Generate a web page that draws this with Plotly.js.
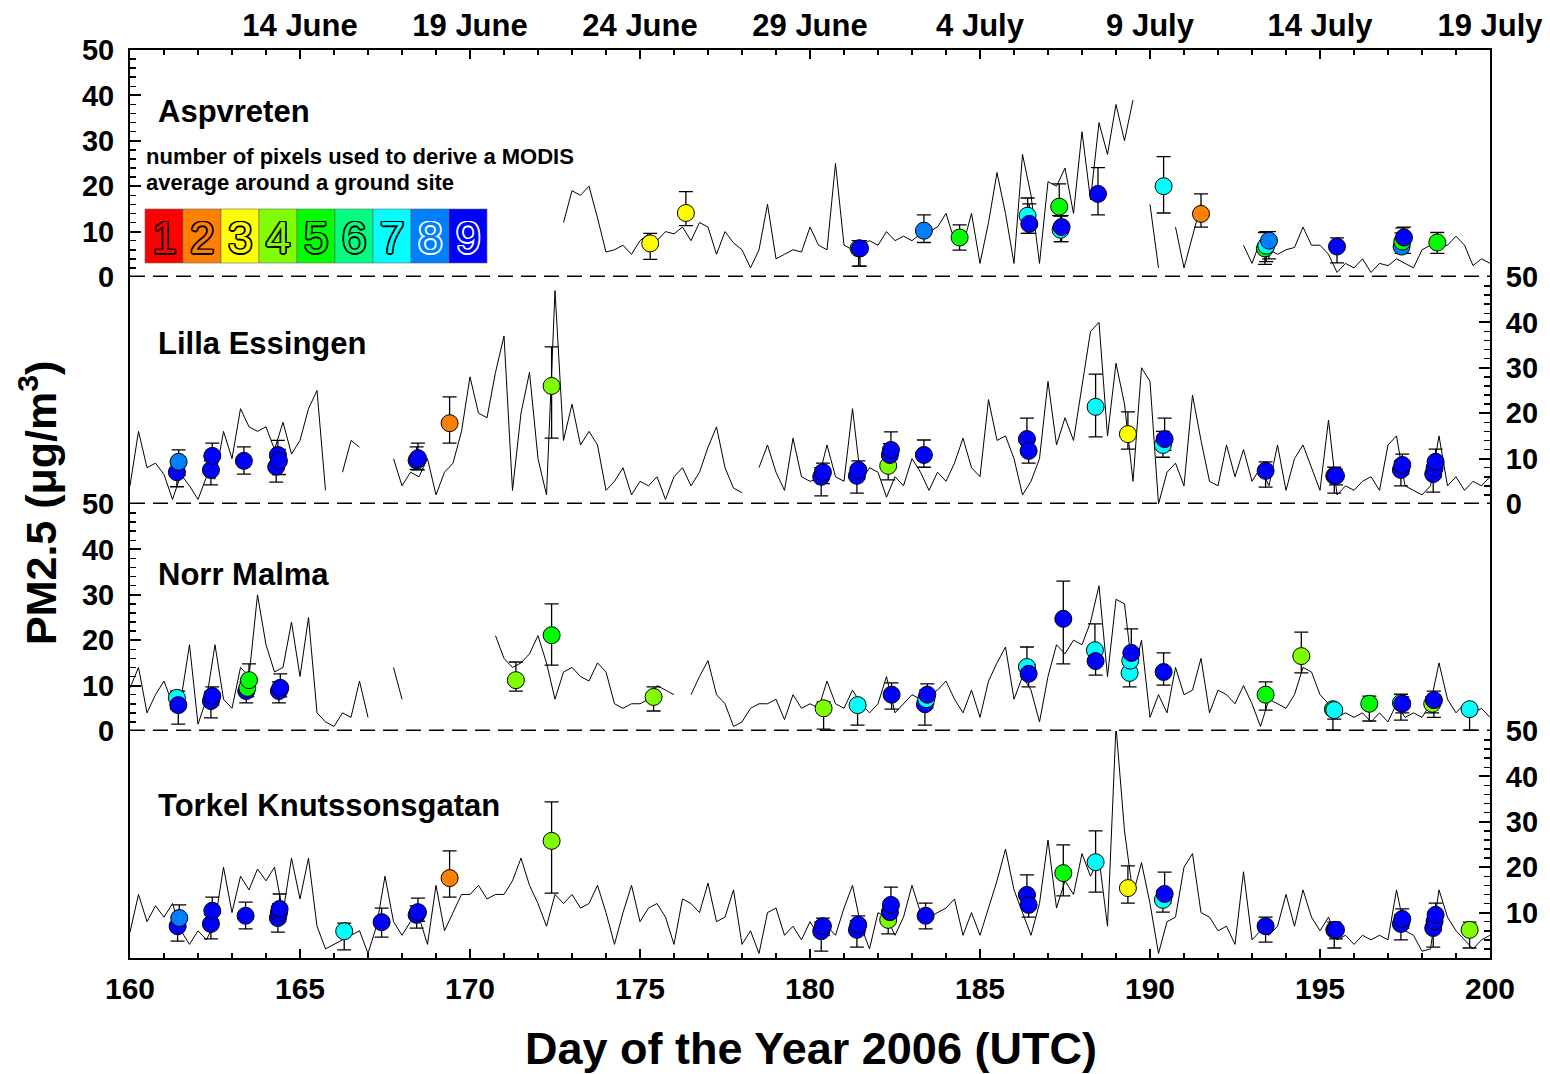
<!DOCTYPE html>
<html>
<head>
<meta charset="utf-8">
<script src="https://cdn.plot.ly/plotly-3.0.1.min.js"></script>
<style>html,body{margin:0;padding:0;background:#fff;}#chart{width:1550px;height:1074px;}</style>
</head>
<body>
<div id="chart"></div>
<script>
const n = null;
// hourly-like PM2.5 series sampled every 0.25 day from day 160.0 to 200.0
const dayStart = 160, dayStep = 0.25;

const aspvretenPM = [
 n,n,n,n,   n,n,n,n,   n,n,n,n,   n,n,n,n,   n,n,n,n,
 n,n,n,n,   n,n,n,n,   n,n,n,n,   n,n,n,n,   n,n,n,n,
 n,n,n,n,   n,n,n,n,   n,n,n,12,
 19,18,20,13,   5.5,6,7,5,   8,9.5,8,10,   9.5,11,8,12,   11,5,10,7.5,
 6,2,6,16,   4,5,6,5.5,   11,7,6,25,   7,6,7,8,   7,10,8,9,
 8,9.5,10,11,   14,8,7,14,   3,12,23,14,   3,27,18,3,   21,20,24,14,
 32,17,34,27,   38,30,39,n,   16,2,n,11,   2,9,16,n,   n,n,n,7,
 3,8,6,5,   6,6.5,11,7,   7,5,1,3,   2,4,1,3,   2.5,4,3,2,
 6,7,6.5,7,   9,7,2.5,4,
 3
];
const lillaPM = [
 4,16,8,9,   6.5,1,6.5,4,   1,6,5.5,16,   10,21,17,16,   17,12,18,11,
 14,21,25,3,   n,7,14,12.5,   n,n,n,10,   4,7,6,10,   2,7,9,16,
 28,20,19,29,   37,3,20,29,   10,2,47,14,
 22,13,16,13,   3,5,8,2,   5,4,6,1,   6,8,4,7,   12.5,17,8,3.5,
 2.5,n,8,13,   7,3,14.5,6,   5,5.5,13,6,   5,21,5,8,   7,1.5,6,4,
 10,7,3,7,   5,9,14.5,8,   6,23,14,15,   10,2,5,10,   27,13,19,14,
 26,38,40,15,   31,22,5,30,   27,0,7,9,   4,24,14,5,   4,13,6,12,
 5,8,4,13,   3,10,13,8,   3,18.5,2,4,   3,5,6,3,   13,15,4,3,
 2,4,15,4,   6,3,5,4,
 6
];
const norrMalmaPM = [
 9.5,14,4,8,   11,6,7,19,   1.5,7,19,7,   5,14,12,30,   19,13,14,24,
 12,25,4,2,   1,4,3,11,   3,n,n,14,   7,n,n,n,   n,n,n,n,
 n,n,n,21,   16,14,15,17,   21,15,7,13,
 14,12,11,15,   13,6,5,6,   6,7,10,9,   8,n,8,12,   15.5,8,6,1,
 2,5,6,6,   7,2.5,8,5,   6,5,11,6,   5,9,6,4,   6,12,4,6,
 8,7,8,9,   11,7,4,9,   3,11,15,18.5,   7,12,9,2,   12,19,17,20,
 19,24,32,12,   29,28,12,20,   3,8,4,14,   8,9,16,4,   9,8,6,10,
 6,1,7,6,   5,8,14,13,   8,6,3,4,   3,4,2,4,   2,6,3,4,
 3,6,15,7,   4,6,4,5,
 3
];
const torkelPM = [
 5.7,14,8,11.5,   9,12,6,3,   6,4,8,20,   10,18,15,19.6,   17,20,10,22,
 13,22,7,2,   3,4,5,6,   1,7,18,8,   5,8,9,3,   16,6,10,14,
 14,16,13,14,   14,17,22,16,   12,7,14,12,
 14,11,12,16,   10,3,10,16,   8,11,12,9,   3,13,12,10,   16.5,8,9,15,
 3,6,1,10,   11,5,7,4,   8,5,7,5,   11,16,7,2,   10,9,5,9,
 16,10,9,10,   11,13,5,10,   5,11,17,24,   15,10,5,12,   26,11,17,14,
 23,18,22,7,   51,28,14,21,   12,1,8,9,   20,23,10,9,   6,7,3,19,
 4,6,5,7,   14,7,15,9,   6,9,4,5,   3,5,4,5,   4,15,6,5,
 1.5,2,15,9,   6,4,2,4,
 5
];

// MODIS-derived points: day, PM2.5, error up, error down, number of pixels
const aspDays = [175.3,176.35,181.43,181.47,183.35,184.4,186.4,186.45,187.33,187.37,187.4,188.47,190.4,191.5,193.38,193.42,193.5,195.5,197.4,197.42,197.47,198.45];
const aspPM   = [7.4,14.1,6.3,6.3,10.2,8.7,13.5,11.7,15.5,10.4,11,18.3,20,13.9,6.3,6.9,8,6.7,6.7,7.8,8.7,7.6];
const aspUp   = [2.2,4.7,1.7,1.7,3.5,2.8,3.9,4.4,5,3,2.5,5.8,6.5,4.4,3.5,3.1,2,1.9,3,3,2.3,2.2];
const aspDown = [3.5,2.8,3.9,3.9,2.6,2.8,3.9,2.1,2,2.6,3.2,4.6,5.9,2.9,3.5,3.5,4,3.6,1.5,2.6,3.5,2.4];
const aspPix  = [3,3,6,9,8,5,7,9,5,7,9,9,7,2,5,7,8,9,8,5,9,5];

const lilDays = [161.38,161.43,162.38,162.42,163.35,164.3,164.35,164.38,168.43,168.47,169.4,172.4,180.33,180.38,181.38,181.42,182.3,182.35,182.38,183.35,186.38,186.43,188.4,189.35,190.38,190.43,193.4,195.42,195.47,197.38,197.42,198.33,198.37,198.4];
const lilPM   = [7,9.3,7.5,10.6,9.5,8.2,10.8,9.5,9.6,10.1,17.8,26,6,7,6.2,7.5,8.4,10.8,11.9,10.8,14.3,11.7,21.4,15.4,13,14.3,7.3,6.2,6.2,7.5,8.6,6.6,7.9,9.3];
const lilUp   = [2,2.6,2,2.8,3.1,2,3.2,2.5,3,3.3,5.8,8.6,2,2,2,2,2,2.5,4,3.3,4.6,2.5,7.2,4.9,3,4.6,2,1.9,1.5,2,2.4,1.5,2,2.8];
const lilDown = [3.2,3,3.3,3,2.9,3.4,2.5,3,2,2.6,4.4,11.5,4.2,2.5,3.8,2,3.1,2.5,2,2.7,2.5,2.7,6.6,3.3,2.7,2.5,3.6,3.8,2,3.5,2,4,2,2];
const lilPix  = [9,8,9,9,9,9,9,9,9,9,2,4,9,9,9,9,4,9,9,9,9,9,7,3,7,9,9,9,9,9,9,9,9,9];

const nmDays = [161.38,161.42,162.38,162.42,163.42,163.45,163.5,164.38,164.42,171.35,172.4,175.4,180.4,181.4,182.4,183.38,183.42,183.45,186.38,186.43,187.45,188.38,188.4,189.4,189.42,189.45,190.4,193.4,194.45,195.38,195.42,196.45,197.38,197.42,198.3,198.35,199.4];
const nmPM   = [7.3,5.7,6.6,7.7,8.8,9.5,11.2,8.8,9.5,11.2,21.1,7.5,5,5.7,8,5.9,7,8,14.1,12.6,24.7,17.8,15.4,12.8,15.5,17.2,13,8,16.5,4.8,4.6,6,6.2,6,6,6.8,4.8];
const nmUp   = [1.5,3.1,2,2,2,2,3.6,2,3.1,4,6.9,2.2,1.4,1.1,2.6,2,2,2.4,4.4,2,8.3,5.8,2,2,2,5.3,4.2,2.8,5.3,1,1,1.7,1.9,1.5,1.5,2,1];
const nmDown = [2.5,4.2,3.7,2,2.6,2,2,2.6,2,2.4,6.6,3.1,4.6,4.4,3.2,4.6,2,2,2,2.9,9.9,2,3.1,3.1,2,2,2.9,3.4,3.7,4.6,2,3.8,3.8,2,2,3.8,4.6];
const nmPix  = [7,9,9,9,9,5,5,9,9,4,5,4,4,7,9,9,7,9,7,9,9,7,9,7,7,9,9,5,4,5,7,5,7,9,4,9,7];

const tkDays = [161.4,161.45,162.38,162.42,163.4,164.35,164.38,164.4,166.3,167.4,168.43,168.47,169.4,172.4,180.33,180.38,181.38,181.42,182.3,182.35,182.38,183.4,186.38,186.43,187.45,188.4,189.35,190.38,190.43,193.4,195.42,195.47,197.38,197.42,198.33,198.37,198.4,199.4];
const tkPM   = [7,8.8,7.5,10.4,9.3,8.8,9.9,10.8,5.9,7.9,9.5,10.1,17.6,25.8,5.9,7,6.2,7.3,8.4,10.1,11.7,9.3,13.9,11.7,18.7,21.1,15.4,12.8,14.1,7,6.2,6.2,7.5,8.6,6.6,8.1,9.5,6.2];
const tkUp   = [2,2.9,2,3,3,2,2,3.3,1.8,3.1,2,3.1,6,8.6,2,1.8,2,2,2,2,3.9,2.8,4.4,2,6.2,6.9,4.9,2,4.8,2,1.7,1,2,2.2,1.5,2,2.6,1.7];
const tkDown = [3.3,2,3.3,2,2.9,3.1,2,2,4.1,3.3,2.9,2,4.2,11.5,4.4,2,3.8,2,3.1,2,2,2.9,2,2.7,5,6.6,3.3,2.7,2,3.5,4,2,3.5,2,4.2,2,2,4];
const tkPix  = [9,8,9,9,9,9,9,9,7,9,9,9,2,4,9,9,9,9,4,9,9,9,9,9,5,7,3,7,9,9,9,9,9,9,9,9,9,4];

const siteNames = ['Aspvreten','Lilla Essingen','Norr Malma','Torkel Knutssonsgatan'];
const legendLines = ['number of pixels used to derive a MODIS','average around a ground site'];
const pixelCounts = [1,2,3,4,5,6,7,8,9];
const bottomTicks = [160,165,170,175,180,185,190,195,200];
const topTickDays = [165,170,175,180,185,190,195,200];
const topTickLabels = ['14 June','19 June','24 June','29 June','4 July','9 July','14 July','19 July'];

// ---- styling ----
const palette = {1:'#ff0000',2:'#ff8000',3:'#ffff00',4:'#80ff00',5:'#00ff00',6:'#00ff80',7:'#00ffff',8:'#0080ff',9:'#0000ff'};
const FONT = 'Liberation Sans, Arial, Helvetica, sans-serif';
const L=130, R=60, T=50, B=116, W=1550, H=1074;
const PW = W-L-R, PH = H-T-B;
const px2x = p => (p-L)/PW;
const py2y = p => (H-B-p)/PH;

const series = [aspvretenPM, lillaPM, norrMalmaPM, torkelPM];
const pts = [
  [aspDays,aspPM,aspUp,aspDown,aspPix],
  [lilDays,lilPM,lilUp,lilDown,lilPix],
  [nmDays,nmPM,nmUp,nmDown,nmPix],
  [tkDays,tkPM,tkUp,tkDown,tkPix]
];
const yNames = ['y','y2','y3','y4'];

const traces = [];
series.forEach((vals,k)=>{
  traces.push({
    type:'scatter', mode:'lines', xaxis:'x', yaxis:yNames[k],
    x: vals.map((v,i)=>dayStart+i*dayStep), y: vals,
    line:{color:'#000', width:1}, hoverinfo:'skip', showlegend:false
  });
});
pts.forEach((p,k)=>{
  traces.push({
    type:'scatter', mode:'markers', xaxis:'x', yaxis:yNames[k],
    x:p[0], y:p[1],
    error_y:{type:'data', symmetric:false, array:p[2], arrayminus:p[3], color:'#000', thickness:1.3, width:7},
    marker:{size:17, color:p[4].map(c=>palette[c]), line:{color:'#000', width:1}},
    showlegend:false
  });
});
traces.push({type:'scatter', mode:'lines', x:[160,200], y:[null,null], xaxis:'x2', yaxis:'y', showlegend:false, hoverinfo:'skip'});

const tickFont = {family:FONT, size:29, color:'#000', weight:'bold'};
function yAxis(dom, side, tickvals){
  return {
    domain:dom, range:[0,50], side:side, anchor:'x',
    tickmode:'array', tickvals:tickvals,
    ticks:'inside', ticklen:11, tickwidth:2, tickcolor:'#000',
    minor:{tickmode:'linear', tick0:0, dtick:2, ticks:'inside', ticklen:6, tickwidth:1.5, tickcolor:'#000'},
    showline:true, linewidth:2, linecolor:'#000', mirror:true,
    showgrid:false, zeroline:false, tickfont:tickFont, ticklabelstandoff:8, fixedrange:true
  };
}

const shapes = [];
['y','y2','y3'].forEach(yr=>{
  shapes.push({type:'line', xref:'paper', yref:yr, x0:0, x1:1, y0:0, y1:0, line:{color:'#000', width:3, dash:'15px,8px'}});
});
const annotations = [];
const labelPy = [111,343,574,805];
siteNames.forEach((s,k)=>{
  annotations.push({xref:'paper', yref:'paper', x:px2x(156), y:py2y(labelPy[k]), xanchor:'left', yanchor:'middle', showarrow:false,
    text:s, font:{family:FONT, size:31, color:'#000', weight:'bold'}});
});
legendLines.forEach((t,i)=>{
  annotations.push({xref:'paper', yref:'paper', x:px2x(144), y:py2y(157+26*i), xanchor:'left', yanchor:'middle', showarrow:false,
    text:t, font:{family:FONT, size:22, color:'#000', weight:'bold'}});
});
const boxW = 38;
pixelCounts.forEach((c,i)=>{
  const x0 = 145 + boxW*i;
  shapes.push({type:'rect', xref:'paper', yref:'paper', x0:px2x(x0), x1:px2x(x0+boxW), y0:py2y(263), y1:py2y(209),
    fillcolor:palette[c], line:{color:'#666', width:0.6}, layer:'above'});
  const oc = c>=8 ? '#fff' : '#000';
  annotations.push({xref:'paper', yref:'paper', x:px2x(x0+boxW/2), y:py2y(237), xanchor:'center', yanchor:'middle', showarrow:false,
    text:String(c), font:{family:FONT, size:44, color:palette[c],
      shadow:`1.4px 1.4px 0 ${oc}, -1.4px -1.4px 0 ${oc}, 1.4px -1.4px 0 ${oc}, -1.4px 1.4px 0 ${oc}, 0 1.5px 0 ${oc}, 0 -1.5px 0 ${oc}, 1.5px 0 0 ${oc}, -1.5px 0 0 ${oc}`}});
});
annotations.push({xref:'paper', yref:'paper', x:px2x(38), y:py2y(503), xanchor:'center', yanchor:'middle', textangle:-90, showarrow:false,
  text:'PM2.5 (μg/m<sup>3</sup>)', font:{family:FONT, size:43, color:'#000', weight:'bold'}});
annotations.push({xref:'paper', yref:'paper', x:px2x(811), y:py2y(1048), xanchor:'center', yanchor:'middle', showarrow:false,
  text:'Day of the Year 2006 (UTC)', font:{family:FONT, size:45, color:'#000', weight:'bold'}});

const layout = {
  width:W, height:H, margin:{l:L, r:R, t:T, b:B}, paper_bgcolor:'#fff', plot_bgcolor:'#fff',
  showlegend:false,
  xaxis:{range:[160,200], anchor:'y4', tickmode:'array', tickvals:bottomTicks,
    ticks:'inside', ticklen:9, tickwidth:2, tickcolor:'#000',
    minor:{tickmode:'linear', tick0:160, dtick:1, ticks:'inside', ticklen:5, tickwidth:1.5, tickcolor:'#000'},
    showline:true, linewidth:2, linecolor:'#000', showgrid:false, zeroline:false,
    tickfont:{family:FONT, size:30, color:'#000', weight:'bold'}, ticklabelstandoff:3, fixedrange:true},
  xaxis2:{range:[160,200], overlaying:'x', side:'top', anchor:'y', tickmode:'array', tickvals:topTickDays, ticktext:topTickLabels,
    ticks:'inside', ticklen:9, tickwidth:2, tickcolor:'#000',
    minor:{tickmode:'linear', tick0:160, dtick:1, ticks:'inside', ticklen:5, tickwidth:1.5, tickcolor:'#000'},
    showline:true, linewidth:2, linecolor:'#000', showgrid:false, zeroline:false,
    tickfont:{family:FONT, size:31, color:'#000', weight:'bold'}, ticklabelstandoff:0, fixedrange:true},
  yaxis: yAxis([0.75,1],'left',[0,10,20,30,40,50]),
  yaxis2: yAxis([0.5,0.75],'right',[0,10,20,30,40,50]),
  yaxis3: yAxis([0.25,0.5],'left',[0,10,20,30,40,50]),
  yaxis4: yAxis([0,0.25],'right',[10,20,30,40,50]),
  shapes:shapes, annotations:annotations
};
Plotly.newPlot('chart', traces, layout, {staticPlot:true, displayModeBar:false});
</script>
</body>
</html>
